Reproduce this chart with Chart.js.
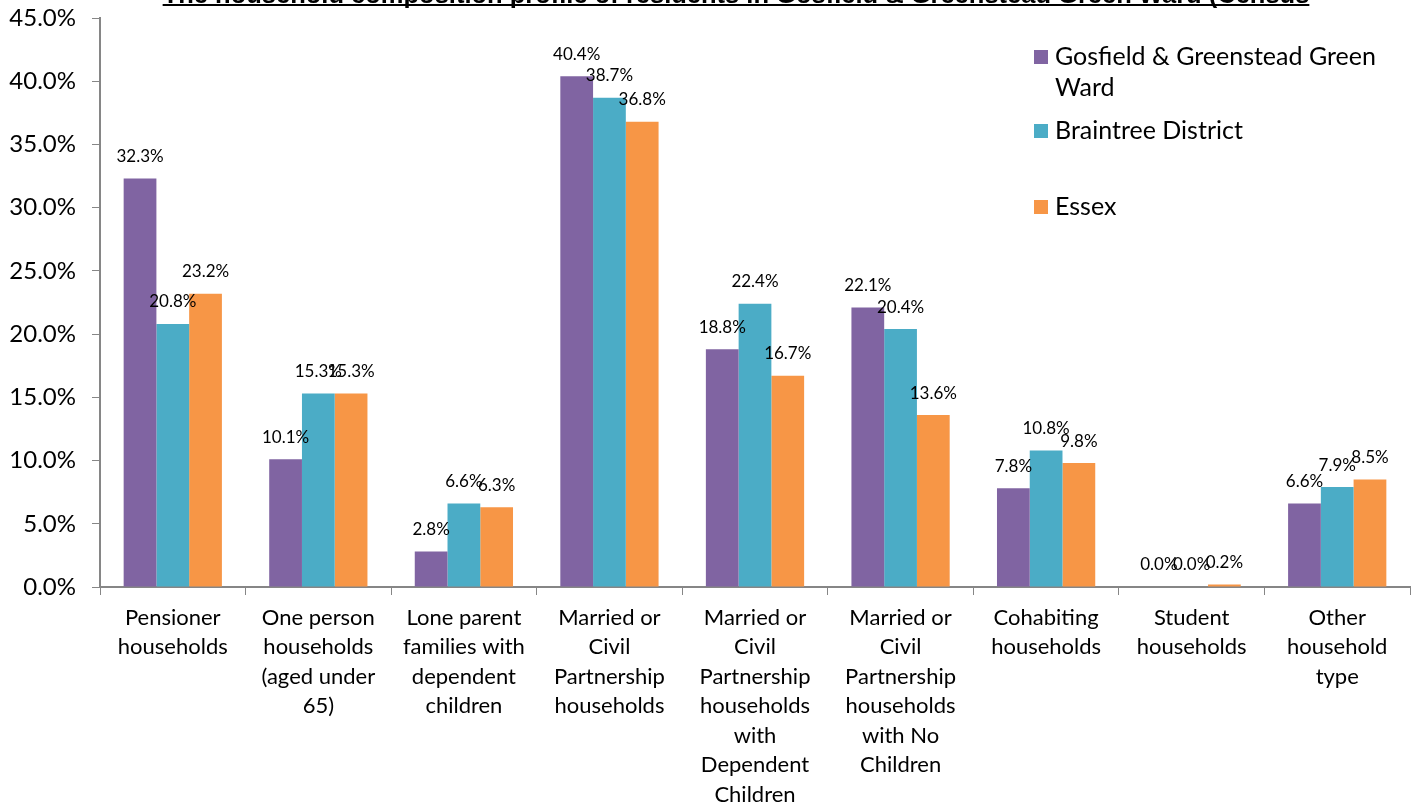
<!DOCTYPE html>
<html>
<head>
<meta charset="utf-8">
<script src="https://cdn.jsdelivr.net/npm/chart.js@4/dist/chart.umd.min.js"></script>
<style>
  html, body { margin: 0; padding: 0; background: #fff; }
  #wrap { position: relative; width: 1411px; height: 809px; }
</style>
</head>
<body>
<div id="wrap"><canvas id="householdChart" width="1411" height="809"></canvas></div>
<script>
const categories = [
    ["Pensioner", "households"],
    ["One person", "households", "(aged under", "65)"],
    ["Lone parent", "families with", "dependent", "children"],
    ["Married or", "Civil", "Partnership", "households"],
    ["Married or", "Civil", "Partnership", "households", "with", "Dependent", "Children"],
    ["Married or", "Civil", "Partnership", "households", "with No", "Children"],
    ["Cohabiting", "households"],
    ["Student", "households"],
    ["Other", "household", "type"],
];
const seriesNames = [["Gosfield & Greenstead Green", "Ward"], ["Braintree District"], ["Essex"]];
const wardValues = [32.3, 10.1, 2.8, 40.4, 18.8, 22.1, 7.8, 0.0, 6.6];
const districtValues = [20.8, 15.3, 6.6, 38.7, 22.4, 20.4, 10.8, 0.0, 7.9];
const essexValues = [23.2, 15.3, 6.3, 36.8, 16.7, 13.6, 9.8, 0.2, 8.5];
const yTicks = [0, 5, 10, 15, 20, 25, 30, 35, 40, 45];
const titleText = "The household composition profile of residents in Gosfield & Greenstead Green Ward (Census";

const colors = ["#8064A2", "#4BACC6", "#F79646"];
const FONT = "Lato, 'Open Sans', sans-serif";
const axisGray = "#868686";

const extras = {
    id: "extras",
    afterDatasetsDraw(chart) {
        const ctx = chart.ctx;
        ctx.save();
        // value labels
        ctx.font = "17px " + FONT;
        ctx.fillStyle = "#000";
        ctx.textAlign = "center";
        ctx.textBaseline = "middle";
        chart.data.datasets.forEach((ds, i) => {
            chart.getDatasetMeta(i).data.forEach((bar, j) => {
                ctx.fillText(ds.data[j].toFixed(1) + "%", bar.x, bar.y - 22);
            });
        });
        // legend
        const legendY = [57, 131, 207];
        ctx.font = "25px " + FONT;
        ctx.textAlign = "left";
        seriesNames.forEach((lines, i) => {
            ctx.fillStyle = colors[i];
            ctx.fillRect(1034, legendY[i] - 7, 14, 14);
            ctx.fillStyle = "#000";
            lines.forEach((t, k) => ctx.fillText(t, 1055, legendY[i] + k * 31));
        });
        // title, cut off at the top edge
        ctx.font = "bold 25.5px 'Liberation Sans', Arial, sans-serif";
        ctx.textAlign = "center";
        ctx.textBaseline = "alphabetic";
        const w = ctx.measureText(titleText).width;
        const cx = 736;
        ctx.fillText(titleText, cx, 2.5);
        ctx.fillRect(cx - w / 2, 4, w, 2);
        ctx.restore();
    },
};

new Chart(document.getElementById("householdChart"), {
    type: "bar",
    data: {
        labels: categories,
        datasets: [
            { label: "Gosfield & Greenstead Green Ward", data: wardValues, backgroundColor: colors[0] },
            { label: "Braintree District", data: districtValues, backgroundColor: colors[1] },
            { label: "Essex", data: essexValues, backgroundColor: colors[2] },
        ],
    },
    options: {
        responsive: false,
        animation: false,
        layout: { padding: { top: 18, right: 1, left: 0, bottom: 0 } },
        datasets: {
            bar: { categoryPercentage: 0.675, barPercentage: 1.0 },
        },
        plugins: {
            legend: { display: false },
            tooltip: { enabled: false },
        },
        scales: {
            x: {
                grid: { display: true, drawOnChartArea: false, drawTicks: true, tickLength: 8, color: axisGray, offset: true },
                border: { display: true, color: axisGray, width: 2 },
                ticks: {
                    color: "#000",
                    font: { family: FONT, size: 22, lineHeight: 1.34 },
                    maxRotation: 0,
                    autoSkip: false,
                    padding: 8,
                },
                afterFit(scale) {
                    scale.height = 222;
                    scale.paddingLeft = 0;
                    scale.paddingRight = 0;
                },
            },
            y: {
                min: 0,
                max: 45,
                afterBuildTicks(scale) { scale.ticks = yTicks.map((v) => ({ value: v })); },
                grid: { display: true, drawOnChartArea: false, drawTicks: true, tickLength: 8, color: axisGray },
                border: { display: true, color: axisGray, width: 2 },
                ticks: {
                    color: "#000",
                    font: { family: FONT, size: 24 },
                    padding: 16,
                    callback: (v) => v.toFixed(1) + "%",
                },
                afterFit(scale) {
                    scale.width = 100;
                    scale.paddingTop = 0;
                    scale.paddingBottom = 0;
                },
            },
        },
    },
    plugins: [extras],
});
</script>
</body>
</html>
